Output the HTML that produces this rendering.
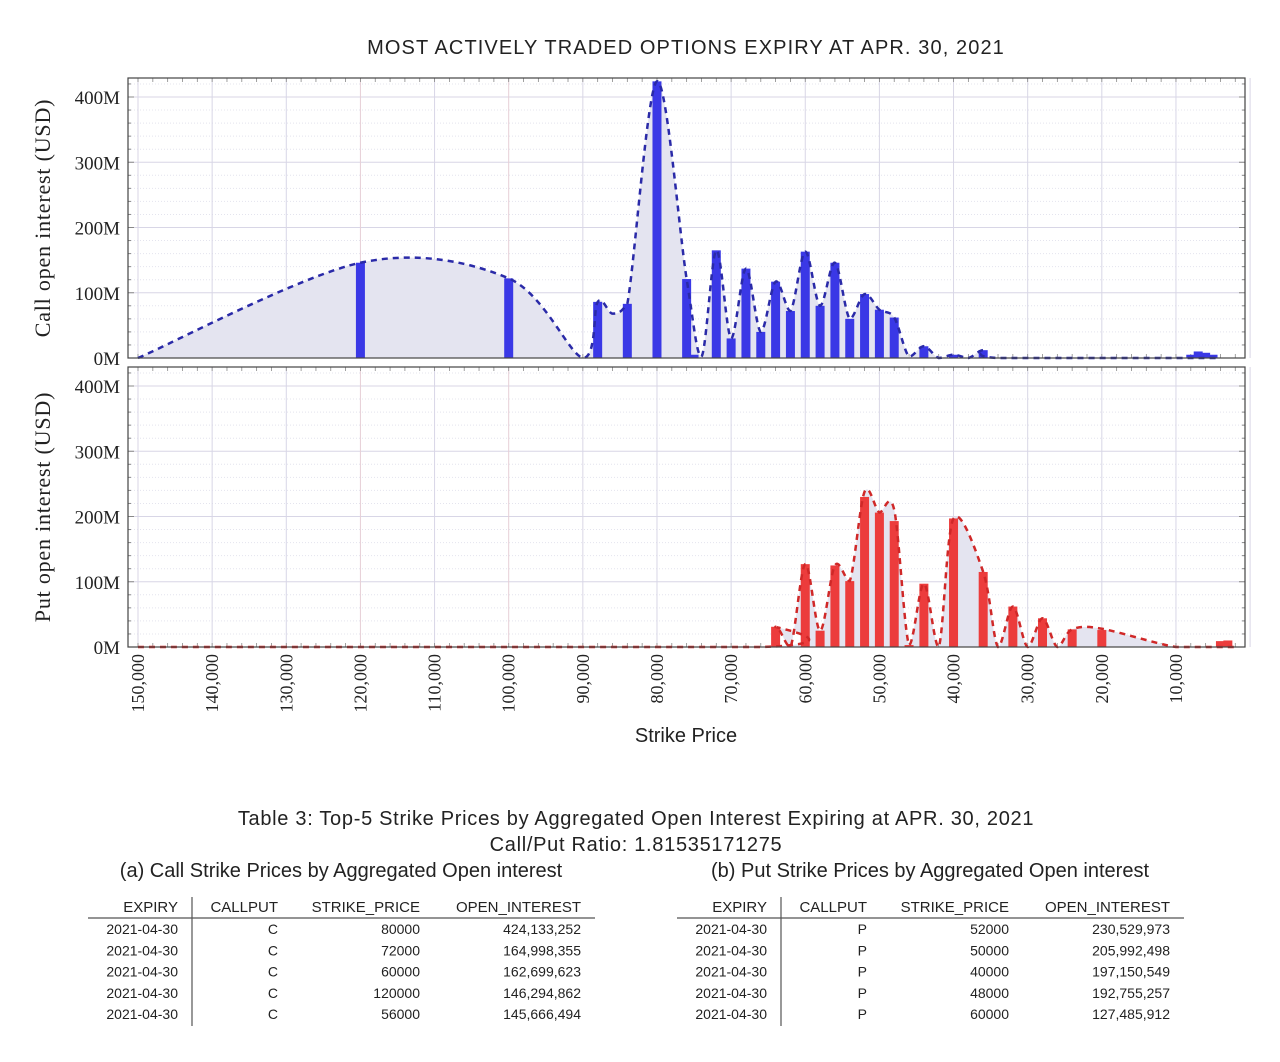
<!DOCTYPE html>
<html><head><meta charset="utf-8"><style>
body{margin:0;background:#fff;width:1280px;height:1062px;overflow:hidden;font-family:"Liberation Sans",sans-serif;}
svg{position:absolute;left:0;top:0}
</style></head><body>
<svg id="chart" width="1280" height="1062"></svg>
<script>
const tickValues=[150000,140000,130000,120000,110000,100000,90000,80000,70000,60000,50000,40000,30000,20000,10000];
const tickLabels=["150,000","140,000","130,000","120,000","110,000","100,000","90,000","80,000","70,000","60,000","50,000","40,000","30,000","20,000","10,000"];
const yTicks=[0,100,200,300,400];
const yTickLabels=["0M","100M","200M","300M","400M"];
const callStrikes=[120000,100000,88000,84000,80000,76000,75000,72000,70000,68000,66000,64000,62000,60000,58000,56000,54000,52000,50000,48000,44000,40000,36000,8000,7000,6000,5000];
const callValues=[146,122,86,83,424,121,5,165,30,137,40,117,72,163,80,146,60,98,74,62,18,5,12,5,10,8,5];
const callCurveStrikes=[150000,120000,100000,90000,88000,86000,84000,80000,76000,74000,72000,70000,68000,66000,64000,62000,60000,58000,56000,54000,52000,50000,48000,46000,44000,42000,40000,38000,36000,34000,10000,6000,4000];
const callCurveValues=[0,146,122,0,86,68,83,424,121,2,165,30,137,40,117,72,163,80,146,60,98,74,62,2,18,0,5,0,12,0,0,0,0];
const putStrikes=[64000,60000,58000,56000,54000,52000,50000,48000,46000,44000,40000,36000,32000,28000,24000,20000,4000,3000];
const putValues=[31,127,25,125,101,230,206,193,3,97,197,115,62,44,27,26,9,10];
const putCurveStrikes=[150000,66000,64000,62000,60000,58000,56000,54000,52000,50000,48000,46000,44000,42000,40000,36000,34000,32000,30000,28000,26000,24000,20000,10000,4000,2000];
const putCurveValues=[0,0,31,0,127,25,125,101,238,206,210,3,97,0,197,115,0,62,0,44,0,27,28,0,0,0];
const NS="http://www.w3.org/2000/svg";
const svg=document.getElementById('chart');
const L=128,R=1245;
const xs=v=>138+(150000-v)/10000*74.14;
function mk(tag,attrs,parent){const e=document.createElementNS(NS,tag);for(const k in attrs)e.setAttribute(k,attrs[k]);(parent||svg).appendChild(e);return e;}
function txt(s,attrs){const t=mk('text',attrs);t.textContent=s;return t;}
function spline(pts){let d="M"+pts[0][0]+","+pts[0][1];for(let i=0;i<pts.length-1;i++){const p0=pts[Math.max(0,i-1)],p1=pts[i],p2=pts[i+1],p3=pts[Math.min(pts.length-1,i+2)];const t=0.16;const c1=[p1[0]+(p2[0]-p0[0])*t,p1[1]+(p2[1]-p0[1])*t];const c2=[p2[0]-(p3[0]-p1[0])*t,p2[1]-(p3[1]-p1[1])*t];c1[1]=Math.min(c1[1],Math.max(p1[1],p2[1]));c2[1]=Math.min(c2[1],Math.max(p1[1],p2[1]));d+=" C"+c1[0]+","+c1[1]+" "+c2[0]+","+c2[1]+" "+p2[0]+","+p2[1];}return d;}
function panel(top,bot,name,strikes,vals,cs,cv,color,ylabel){
  const ys=v=>bot-v*(bot-top-19)/400;
  const g=mk('g',{});
  
  
  for(let v=20;v<=440;v+=20){const y=ys(v);if(y<top)break;mk('line',{x1:L,x2:R,y1:y,y2:y,stroke:v%100?'#e4e4ee':'#d8d6e6','stroke-dasharray':v%100?'1,2':'none','stroke-width':1},g);}
  for(let v=150000;v>=0;v-=10000){const x=xs(v);mk('line',{x1:x,x2:x,y1:top,y2:bot,stroke:(v==120000||v==100000)?'#e6cfd6':'#d8d6e6','stroke-width':1},g);}
  for(let v=150000;v>=2000;v-=2000){const x=xs(v);mk('line',{x1:x,x2:x,y1:bot,y2:bot-4,stroke:'#888','stroke-width':0.8},g);mk('line',{x1:x,x2:x,y1:top,y2:top+4,stroke:'#888','stroke-width':0.8},g);}
  for(let v=0;v<=440;v+=20){const y=ys(v);if(y<top)break;mk('line',{x1:L,x2:L+(v%100?3:6),y1:y,y2:y,stroke:'#888'},g);mk('line',{x1:R,x2:R-(v%100?3:6),y1:y,y2:y,stroke:'#888'},g);}
  const pts=cs.map((s,i)=>[xs(s),ys(cv[i])]);
  const d=spline(pts);
  const area=mk('path',{d:d+" L"+pts[pts.length-1][0]+","+bot+" L"+pts[0][0]+","+bot+" Z",fill:'#e4e4f0',stroke:'none'},g);
  
  
  strikes.forEach((s,i)=>{const b=mk('rect',{x:xs(s)-4.5,y:ys(vals[i]),width:9,height:bot-ys(vals[i]),fill:color},g);
    
    });
  const ln=mk('path',{d:d,fill:'none',stroke:color=='#3a38e6'?'#2a2aa8':'#d02828','stroke-width':2.5,'stroke-dasharray':'6,5'},g);
  
  
  mk('rect',{x:L,y:top,width:R-L,height:bot-top,fill:'none',stroke:'#444','stroke-width':1.2},g);
  yTicks.forEach((v,i)=>{const t=txt(yTickLabels[i],{x:120,y:ys(v)+7,'text-anchor':'end','font-family':'"Liberation Serif",serif','font-size':19,fill:'#222'});
    
    });
  const yl=txt(ylabel,{x:0,y:0,transform:'translate(50,'+((top+bot)/2)+') rotate(-90)','text-anchor':'middle','font-family':'"Liberation Serif",serif','font-size':22,'letter-spacing':0.8,fill:'#222'});
  
  
}
const title=txt("MOST ACTIVELY TRADED OPTIONS EXPIRY AT APR. 30, 2021",{x:686,y:54,'text-anchor':'middle','font-size':20,'letter-spacing':1.1,fill:'#222'});


panel(78,358,'call',callStrikes,callValues,callCurveStrikes,callCurveValues,'#3a38e6','Call open interest (USD)');
panel(367,647,'put',putStrikes,putValues,putCurveStrikes,putCurveValues,'#ec3c3c','Put open interest (USD)');
tickValues.forEach((v,i)=>{const t=txt(tickLabels[i],{x:0,y:0,transform:'translate('+(xs(v)+6)+',654) rotate(-90)','text-anchor':'end','font-family':'"Liberation Serif",serif','font-size':18,fill:'#222'});
  
  });
const xt=txt("Strike Price",{x:686,y:742,'text-anchor':'middle','font-size':20,fill:'#222'});


const cap=[["Table 3:  Top-5 Strike Prices by Aggregated Open Interest Expiring at APR. 30, 2021",636,825,'table-caption',0.7],["Call/Put Ratio:  1.81535171275",636,851,'call-put-ratio',0.7],["(a) Call Strike Prices by Aggregated Open interest",341,877,'call-table-caption',0],["(b) Put Strike Prices by Aggregated Open interest",930,877,'put-table-caption',0]];
cap.forEach(c=>{const t=txt(c[0],{x:c[1],y:c[2],'text-anchor':'middle','font-size':20,'letter-spacing':c[4],fill:'#222'});
  
  });
const callRows=[["2021-04-30","C","80000","424,133,252"],["2021-04-30","C","72000","164,998,355"],["2021-04-30","C","60000","162,699,623"],["2021-04-30","C","120000","146,294,862"],["2021-04-30","C","56000","145,666,494"]];
const putRows=[["2021-04-30","P","52000","230,529,973"],["2021-04-30","P","50000","205,992,498"],["2021-04-30","P","40000","197,150,549"],["2021-04-30","P","48000","192,755,257"],["2021-04-30","P","60000","127,485,912"]];
function table(ox,rows,name){
  const hd=["EXPIRY","CALLPUT","STRIKE_PRICE","OPEN_INTEREST"],rx=[178,278,420,581];
  hd.forEach((h,i)=>{const t=txt(h,{x:rx[i]+ox,y:912,'text-anchor':'end','font-size':15,fill:'#222'});
    
    });
  mk('line',{x1:88+ox,x2:595+ox,y1:918,y2:918,stroke:'#555','stroke-width':1.2});
  mk('line',{x1:192+ox,x2:192+ox,y1:897,y2:1026,stroke:'#555','stroke-width':1.2});
  const cx=[178,278,420,581];
  rows.forEach((r,j)=>r.forEach((c,i)=>{const t=txt(c,{x:(i==1?278:cx[i])+ox,y:934+j*21.3,'text-anchor':'end','font-size':14,fill:'#222'});
    
    }));
}
table(0,callRows,'call-table');
table(589,putRows,'put-table');
</script>
</body></html>
